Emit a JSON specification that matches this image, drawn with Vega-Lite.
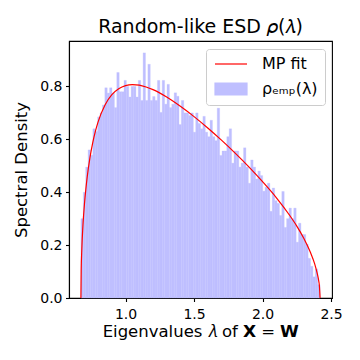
{
 "$schema": "https://vega.github.io/schema/vega-lite/v6.json",
 "width": 263,
 "height": 257,
 "autosize": {"type": "none"},
 "padding": {"left": 69, "top": 41, "right": 28, "bottom": 62},
 "background": "white",
 "title": {"text": "Random-like ESD 𝜌(𝜆)", "fontSize": 19, "font": "DejaVu Sans", "fontWeight": "normal", "baseline": "alphabetic", "offset": -11, "frame": "group", "anchor": "middle", "color": "black"},
 "config": {
  "view": {"stroke": "black", "strokeWidth": 1.1},
  "axis": {"domainColor": "black", "domainWidth": 1.1, "tickColor": "black", "tickWidth": 1.1, "tickSize": 3.5, "labelFont": "DejaVu Sans", "labelFontSize": 14, "labelColor": "black", "titleFont": "DejaVu Sans", "titleFontSize": 16.5, "titleFontWeight": "normal", "titleColor": "black", "grid": false, "labelFlush": false, "labelOverlap": false, "labelBound": false},
  "legend": {"title": null, "orient": "top-right", "offset": 7.5, "padding": 7, "rowPadding": 8, "labelFontSize": 16, "labelFont": "DejaVu Sans", "labelColor": "black", "labelOffset": 23, "symbolOffset": 10, "symbolSize": 144, "strokeColor": "#cccccc", "fillColor": "white", "cornerRadius": 3}
 },
 "datasets": {
  "hist": [
   {"lo": 0.6740, "hi": 0.6915, "density": 0.30},
   {"lo": 0.6915, "hi": 0.7089, "density": 0.40},
   {"lo": 0.7089, "hi": 0.7264, "density": 0.495},
   {"lo": 0.7264, "hi": 0.7438, "density": 0.56},
   {"lo": 0.7438, "hi": 0.7613, "density": 0.54},
   {"lo": 0.7613, "hi": 0.7788, "density": 0.64},
   {"lo": 0.7788, "hi": 0.7962, "density": 0.63},
   {"lo": 0.7962, "hi": 0.8137, "density": 0.685},
   {"lo": 0.8137, "hi": 0.8311, "density": 0.70},
   {"lo": 0.8311, "hi": 0.8486, "density": 0.73},
   {"lo": 0.8486, "hi": 0.8661, "density": 0.795},
   {"lo": 0.8661, "hi": 0.8835, "density": 0.775},
   {"lo": 0.8835, "hi": 0.9010, "density": 0.795},
   {"lo": 0.9010, "hi": 0.9184, "density": 0.775},
   {"lo": 0.9184, "hi": 0.9359, "density": 0.72},
   {"lo": 0.9359, "hi": 0.9534, "density": 0.853},
   {"lo": 0.9534, "hi": 0.9708, "density": 0.78},
   {"lo": 0.9708, "hi": 0.9883, "density": 0.78},
   {"lo": 0.9883, "hi": 1.0057, "density": 0.823},
   {"lo": 1.0057, "hi": 1.0232, "density": 0.80},
   {"lo": 1.0232, "hi": 1.0407, "density": 0.76},
   {"lo": 1.0407, "hi": 1.0581, "density": 0.80},
   {"lo": 1.0581, "hi": 1.0756, "density": 0.80},
   {"lo": 1.0756, "hi": 1.0930, "density": 0.76},
   {"lo": 1.0930, "hi": 1.1105, "density": 0.823},
   {"lo": 1.1105, "hi": 1.1280, "density": 0.747},
   {"lo": 1.1280, "hi": 1.1454, "density": 0.927},
   {"lo": 1.1454, "hi": 1.1629, "density": 0.747},
   {"lo": 1.1629, "hi": 1.1803, "density": 0.884},
   {"lo": 1.1803, "hi": 1.1978, "density": 0.747},
   {"lo": 1.1978, "hi": 1.2153, "density": 0.762},
   {"lo": 1.2153, "hi": 1.2327, "density": 0.747},
   {"lo": 1.2327, "hi": 1.2502, "density": 0.823},
   {"lo": 1.2502, "hi": 1.2676, "density": 0.702},
   {"lo": 1.2676, "hi": 1.2851, "density": 0.823},
   {"lo": 1.2851, "hi": 1.3026, "density": 0.733},
   {"lo": 1.3026, "hi": 1.3200, "density": 0.808},
   {"lo": 1.3200, "hi": 1.3375, "density": 0.72},
   {"lo": 1.3375, "hi": 1.3549, "density": 0.733},
   {"lo": 1.3549, "hi": 1.3724, "density": 0.776},
   {"lo": 1.3724, "hi": 1.3899, "density": 0.763},
   {"lo": 1.3899, "hi": 1.4073, "density": 0.656},
   {"lo": 1.4073, "hi": 1.4248, "density": 0.747},
   {"lo": 1.4248, "hi": 1.4422, "density": 0.70},
   {"lo": 1.4422, "hi": 1.4597, "density": 0.70},
   {"lo": 1.4597, "hi": 1.4772, "density": 0.69},
   {"lo": 1.4772, "hi": 1.4946, "density": 0.70},
   {"lo": 1.4946, "hi": 1.5121, "density": 0.627},
   {"lo": 1.5121, "hi": 1.5295, "density": 0.70},
   {"lo": 1.5295, "hi": 1.5470, "density": 0.66},
   {"lo": 1.5470, "hi": 1.5645, "density": 0.64},
   {"lo": 1.5645, "hi": 1.5819, "density": 0.687},
   {"lo": 1.5819, "hi": 1.5994, "density": 0.627},
   {"lo": 1.5994, "hi": 1.6168, "density": 0.61},
   {"lo": 1.6168, "hi": 1.6343, "density": 0.672},
   {"lo": 1.6343, "hi": 1.6518, "density": 0.61},
   {"lo": 1.6518, "hi": 1.6692, "density": 0.595},
   {"lo": 1.6692, "hi": 1.6867, "density": 0.718},
   {"lo": 1.6867, "hi": 1.7041, "density": 0.539},
   {"lo": 1.7041, "hi": 1.7216, "density": 0.556},
   {"lo": 1.7216, "hi": 1.7391, "density": 0.556},
   {"lo": 1.7391, "hi": 1.7565, "density": 0.61},
   {"lo": 1.7565, "hi": 1.7740, "density": 0.64},
   {"lo": 1.7740, "hi": 1.7914, "density": 0.51},
   {"lo": 1.7914, "hi": 1.8089, "density": 0.556},
   {"lo": 1.8089, "hi": 1.8264, "density": 0.556},
   {"lo": 1.8264, "hi": 1.8438, "density": 0.495},
   {"lo": 1.8438, "hi": 1.8613, "density": 0.51},
   {"lo": 1.8613, "hi": 1.8787, "density": 0.568},
   {"lo": 1.8787, "hi": 1.8962, "density": 0.495},
   {"lo": 1.8962, "hi": 1.9137, "density": 0.434},
   {"lo": 1.9137, "hi": 1.9311, "density": 0.522},
   {"lo": 1.9311, "hi": 1.9486, "density": 0.495},
   {"lo": 1.9486, "hi": 1.9660, "density": 0.45},
   {"lo": 1.9660, "hi": 1.9835, "density": 0.48},
   {"lo": 1.9835, "hi": 2.0010, "density": 0.463},
   {"lo": 2.0010, "hi": 2.0184, "density": 0.404},
   {"lo": 2.0184, "hi": 2.0359, "density": 0.419},
   {"lo": 2.0359, "hi": 2.0533, "density": 0.434},
   {"lo": 2.0533, "hi": 2.0708, "density": 0.328},
   {"lo": 2.0708, "hi": 2.0883, "density": 0.416},
   {"lo": 2.0883, "hi": 2.1057, "density": 0.368},
   {"lo": 2.1057, "hi": 2.1232, "density": 0.358},
   {"lo": 2.1232, "hi": 2.1406, "density": 0.312},
   {"lo": 2.1406, "hi": 2.1581, "density": 0.403},
   {"lo": 2.1581, "hi": 2.1756, "density": 0.267},
   {"lo": 2.1756, "hi": 2.1930, "density": 0.30},
   {"lo": 2.1930, "hi": 2.2105, "density": 0.34},
   {"lo": 2.2105, "hi": 2.2279, "density": 0.30},
   {"lo": 2.2279, "hi": 2.2454, "density": 0.34},
   {"lo": 2.2454, "hi": 2.2629, "density": 0.211},
   {"lo": 2.2629, "hi": 2.2803, "density": 0.283},
   {"lo": 2.2803, "hi": 2.2978, "density": 0.24},
   {"lo": 2.2978, "hi": 2.3152, "density": 0.24},
   {"lo": 2.3152, "hi": 2.3327, "density": 0.204},
   {"lo": 2.3327, "hi": 2.3502, "density": 0.15},
   {"lo": 2.3502, "hi": 2.3676, "density": 0.12},
   {"lo": 2.3676, "hi": 2.3851, "density": 0.08},
   {"lo": 2.3851, "hi": 2.4025, "density": 0.11},
   {"lo": 2.4025, "hi": 2.4200, "density": 0.05}
  ],
  "fit": [
   {"x": 0.674, "y": 0},
   {"x": 0.676, "y": 0.103},
   {"x": 0.68, "y": 0.177},
   {"x": 0.69, "y": 0.285},
   {"x": 0.70, "y": 0.357},
   {"x": 0.71, "y": 0.412},
   {"x": 0.72, "y": 0.458},
   {"x": 0.74, "y": 0.531},
   {"x": 0.76, "y": 0.587},
   {"x": 0.78, "y": 0.631},
   {"x": 0.80, "y": 0.667},
   {"x": 0.85, "y": 0.730},
   {"x": 0.90, "y": 0.769},
   {"x": 0.95, "y": 0.791},
   {"x": 1.00, "y": 0.803},
   {"x": 1.05, "y": 0.807},
   {"x": 1.10, "y": 0.805},
   {"x": 1.15, "y": 0.798},
   {"x": 1.20, "y": 0.788},
   {"x": 1.30, "y": 0.760},
   {"x": 1.40, "y": 0.725},
   {"x": 1.50, "y": 0.686},
   {"x": 1.60, "y": 0.643},
   {"x": 1.70, "y": 0.597},
   {"x": 1.80, "y": 0.548},
   {"x": 1.90, "y": 0.496},
   {"x": 2.00, "y": 0.440},
   {"x": 2.10, "y": 0.380},
   {"x": 2.20, "y": 0.311},
   {"x": 2.25, "y": 0.272},
   {"x": 2.30, "y": 0.227},
   {"x": 2.35, "y": 0.172},
   {"x": 2.38, "y": 0.130},
   {"x": 2.40, "y": 0.091},
   {"x": 2.41, "y": 0.065},
   {"x": 2.415, "y": 0.046},
   {"x": 2.42, "y": 0}
  ]
 },
 "layer": [
  {
   "data": {"name": "hist"},
   "mark": {"type": "bar", "stroke": "#bfbfff", "strokeWidth": 0.3},
   "encoding": {
    "x": {"field": "lo", "type": "quantitative", "scale": {"domain": [0.587, 2.507], "nice": false, "zero": false},
     "axis": {"values": [1.0, 1.5, 2.0, 2.5], "format": ".1f", "labelBaseline": "alphabetic", "labelPadding": 16.5, "title": "Eigenvalues 𝜆 of 𝗫 = 𝗪", "titleBaseline": "alphabetic", "titleY": 38, "titleX": 131.5, "titleAlign": "center"}},
    "x2": {"field": "hi"},
    "y": {"field": "density", "type": "quantitative", "scale": {"domain": [0, 0.972], "nice": false},
     "axis": {"values": [0, 0.2, 0.4, 0.6, 0.8], "format": ".1f", "labelPadding": 3.5, "title": "Spectral Density", "titleX": -43, "titleY": 128.5, "titleAngle": -90, "titleAlign": "center", "titleBaseline": "alphabetic"}},
    "y2": {"datum": 0},
    "color": {"datum": "ρₑₘₚ(λ)", "type": "nominal",
     "scale": {"domain": ["MP fit", "ρₑₘₚ(λ)"], "range": ["#ff0000", "#bfbfff"]},
     "legend": {
      "encode": {"symbols": {"update": {
       "shape": {"signal": "datum.value === 'MP fit' ? 'M-2.6667,0H2.6667' : 'M-2.6667,-1H2.6667V1H-2.6667Z'"},
       "fill": {"signal": "datum.value === 'MP fit' ? 'transparent' : '#bfbfff'"},
       "stroke": {"signal": "datum.value === 'MP fit' ? '#ff0000' : 'transparent'"},
       "strokeWidth": {"value": 1.2},
       "opacity": {"value": 1}
      }}}}}
   }
  },
  {
   "data": {"name": "fit"},
   "mark": {"type": "line", "strokeWidth": 1.2, "interpolate": "monotone"},
   "encoding": {
    "x": {"field": "x", "type": "quantitative"},
    "y": {"field": "y", "type": "quantitative"},
    "color": {"datum": "MP fit", "type": "nominal",
     "legend": {
      "encode": {"symbols": {"update": {
       "shape": {"signal": "datum.value === 'MP fit' ? 'M-2.6667,0H2.6667' : 'M-2.6667,-1H2.6667V1H-2.6667Z'"},
       "fill": {"signal": "datum.value === 'MP fit' ? 'transparent' : '#bfbfff'"},
       "stroke": {"signal": "datum.value === 'MP fit' ? '#ff0000' : 'transparent'"},
       "strokeWidth": {"value": 1.2},
       "opacity": {"value": 1}
      }}}}}
   }
  }
 ]
}
